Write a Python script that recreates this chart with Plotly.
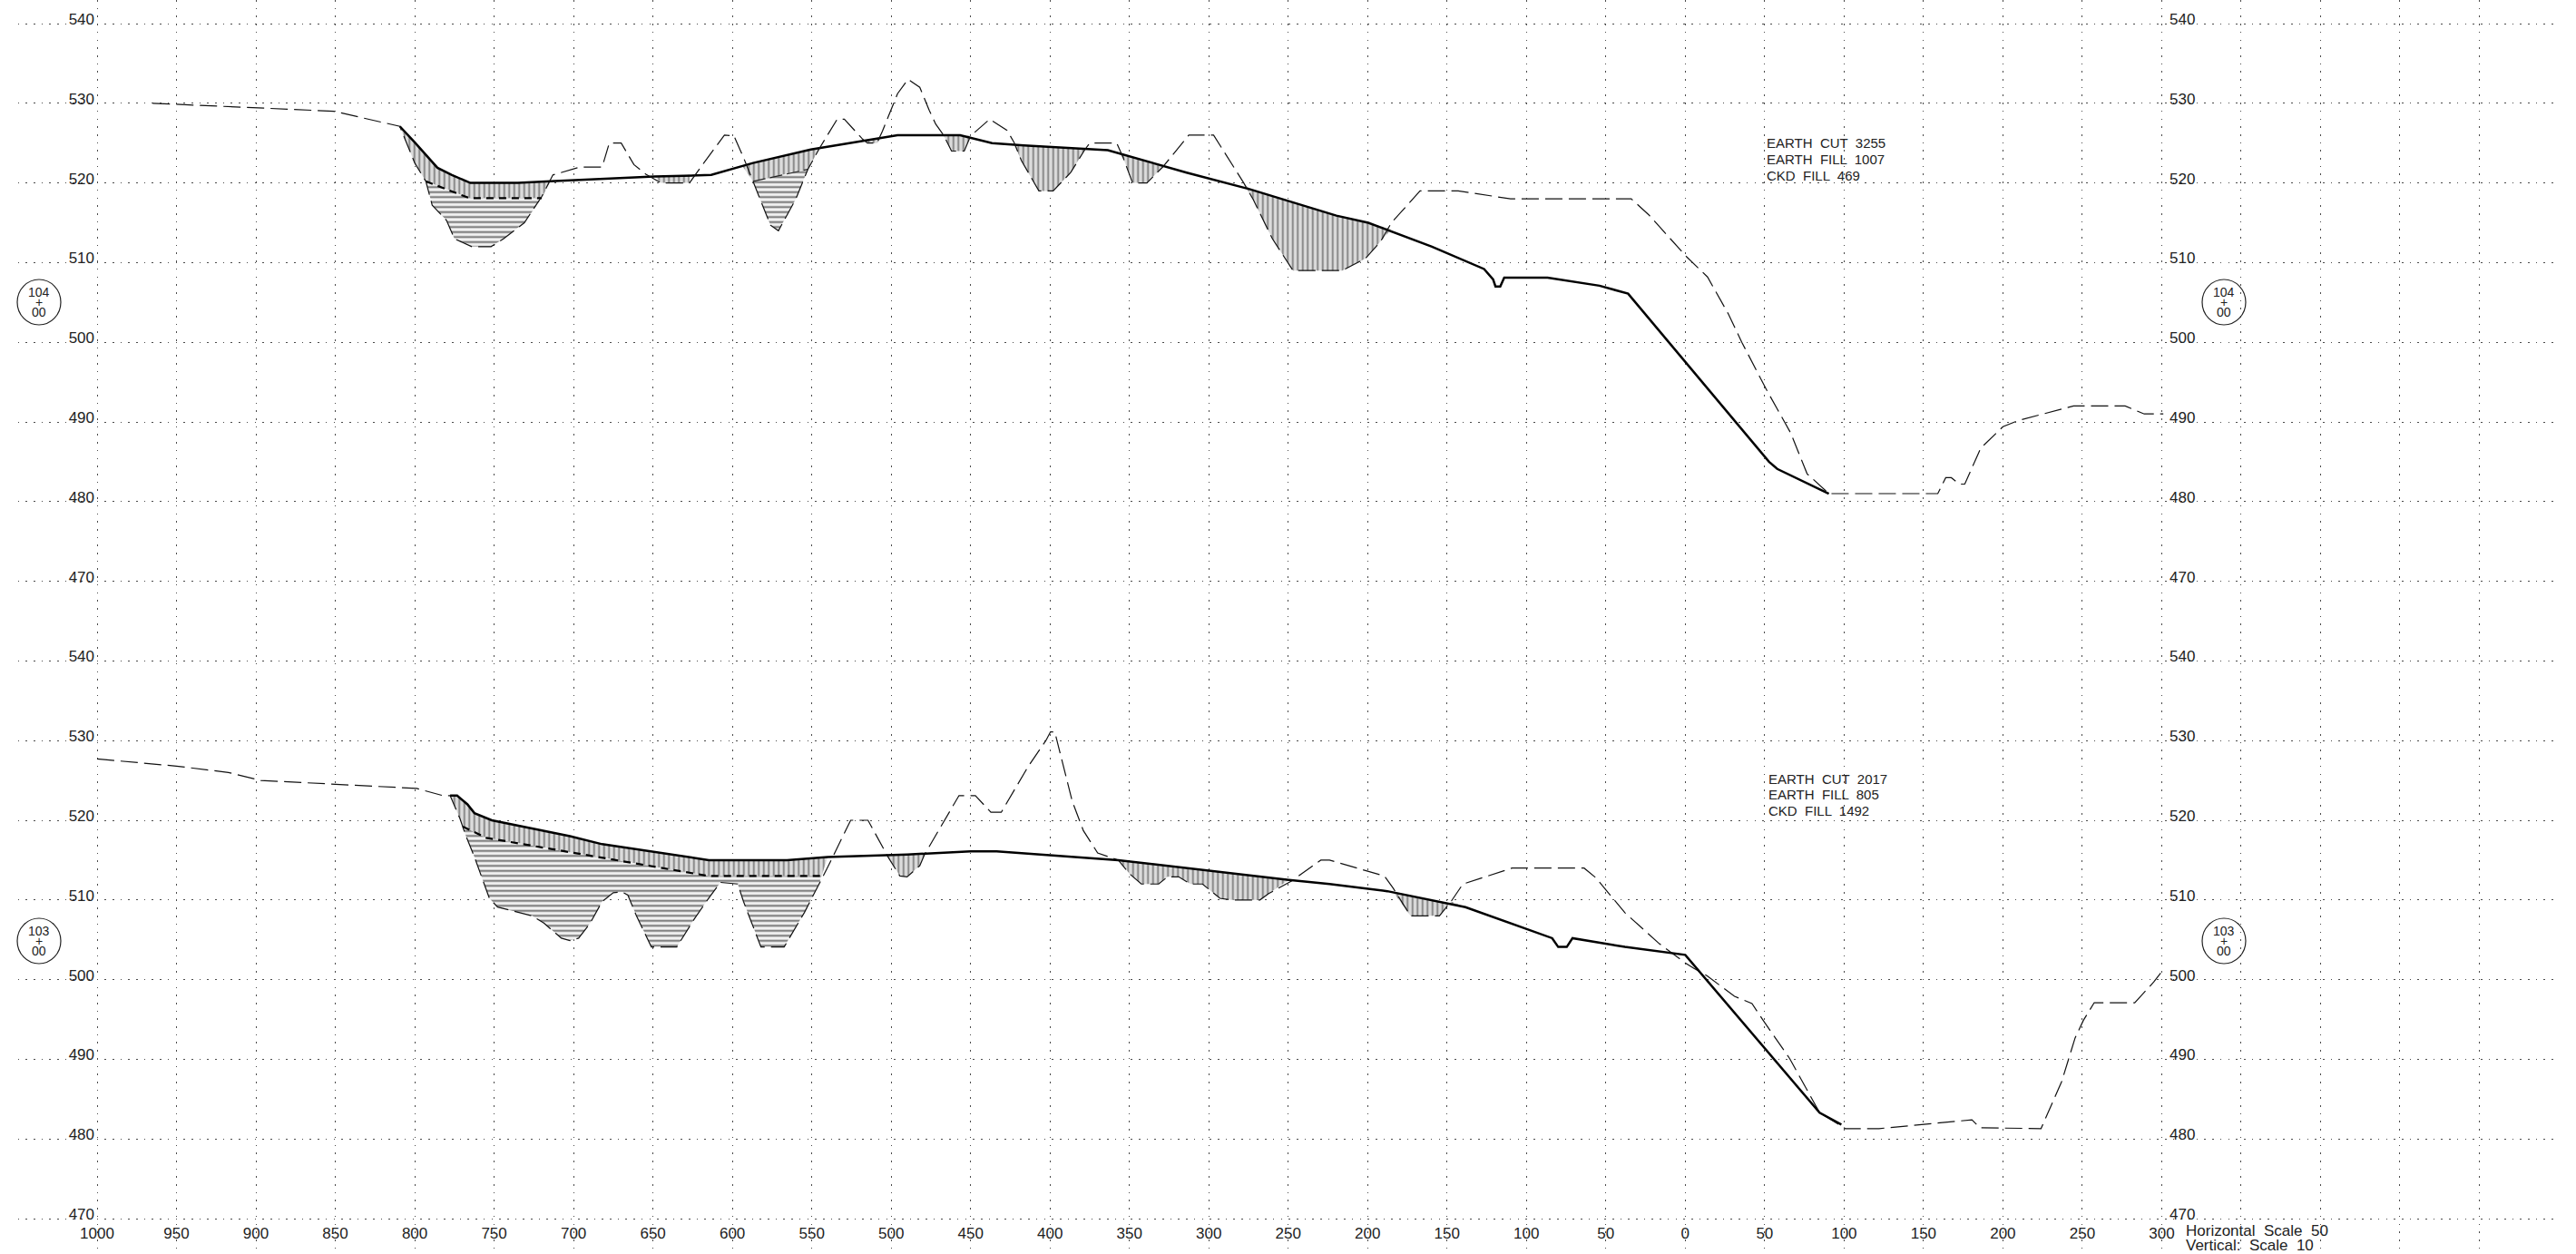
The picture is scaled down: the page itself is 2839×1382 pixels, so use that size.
import plotly.graph_objects as go

W, H = 2839, 1382

# Horizontal stations: negative = left of the 0 mark (the drawing labels both sides unsigned)
x_grid = list(range(-1050, 551, 50))
x_labelled = list(range(-1000, 301, 50))
y_labels = [540, 530, 520, 510, 500, 490, 480, 470]

# Upper section (104+00)
top_ground_x = [-965, -900, -851, -809.4, -800, -793, -789, -780, -775, -764, -752, -744, -731, -720, -713, -696, -682, -677.5, -670, -662, -654.5, -645, -627, -618, -605, -599, -593, -587, -576, -571, -560, -552.5, -545, -534, -529.5, -518, -515, -509, -505.5, -496, -489.4, -482, -476, -472, -467, -462, -454, -450, -444, -438, -427, -422.7, -418, -407, -398, -387, -378, -375, -358, -354, -348, -339, -329, -312.6, -297, -287, -278, -272, -260, -247, -216, -201.5, -192, -185, -167, -143, -110, -34, -23, 1, 14, 27, 35.6, 51, 66.4, 76.7, 90.4, 159, 164, 167.5, 172.6, 176, 186, 200, 210, 244.5, 277, 289, 301]
top_ground_y = [530, 529.4, 529, 527.1, 522.5, 520.2, 517.2, 515.3, 513, 512, 512, 513, 515, 518.3, 521, 522, 522, 525, 525, 522.3, 521.1, 520, 520, 522.5, 526, 525.9, 523.2, 520.2, 514.7, 514, 518, 521.7, 524.4, 528, 528, 525.5, 525, 525, 526.5, 531.2, 533, 532, 529.1, 527.4, 526, 524, 524, 525.9, 527, 528, 526.6, 525.1, 522.8, 519, 519, 521.3, 524.2, 525, 525, 523.2, 520, 520, 522, 526, 526, 522.8, 520, 517.9, 513, 509, 509, 510.5, 512.6, 515, 519, 519, 518, 518, 516, 510.7, 508.2, 503.6, 500, 494.1, 488.6, 483.5, 481, 481, 483, 483, 482.2, 482.2, 486.7, 489.4, 490.2, 492, 492, 491, 491]
top_grade_x = [-809.4, -800, -785.7, -776.6, -765, -735, -714.6, -649, -613.3, -587, -550.6, -514, -496, -456.6, -436.5, -416.5, -363.6, -314, -274, -219.7, -199.6, -159.5, -126.7, -121, -119.5, -116.5, -114, -86.7, -54, -36, 52.7, 57.9, 90.4]
top_grade_y = [527.1, 525.1, 521.9, 521, 520, 520, 520.2, 520.8, 521, 522.5, 524.2, 525.4, 526, 526, 525, 524.7, 524.1, 521.3, 519.2, 515.9, 515, 512, 509.2, 507.9, 507, 507, 508.1, 508.1, 507.1, 506.1, 485, 484.1, 481]
top_bound_a_x = [-793, -765.7, -720]
top_bound_a_y = [520.2, 518.1, 518.1]
top_bound_b_x = [-587, -552.5]
top_bound_b_y = [520.2, 521.7]

# Upper section hatched areas
top_cut_a_x = [-809.4, -800, -785.7, -776.6, -765, -735, -714.6, -720, -765.7, -793, -800]
top_cut_a_y = [527.1, 525.1, 521.9, 521, 520, 520, 520.2, 518.1, 518.1, 520.2, 522.5]
top_ckd_a_x = [-793, -765.7, -720, -731, -744, -752, -764, -775, -780, -789]
top_ckd_a_y = [520.2, 518.1, 518.1, 515, 513, 512, 512, 513, 515.3, 517.2]
top_cut_b_x = [-649, -627, -627, -645]
top_cut_b_y = [520.8, 521, 520, 520]
top_cut_c_x = [-594, -587, -550.6, -545, -552.5, -587]
top_cut_c_y = [522.2, 522.5, 524.2, 524.4, 521.7, 520.2]
top_ckd_c_x = [-587, -552.5, -560, -571, -576]
top_ckd_c_y = [520.2, 521.7, 518, 514, 514.7]
top_cut_d_x = [-516, -506, -509, -515]
top_cut_d_y = [525.3, 525.7, 525, 525]
top_cut_e_x = [-467, -456.6, -450, -454, -462]
top_cut_e_y = [526, 526, 525.9, 524, 524]
top_cut_f_x = [-422.7, -416.5, -378, -387, -398, -407, -418]
top_cut_f_y = [524.9, 524.7, 524.2, 521.3, 519, 519, 522.8]
top_cut_g_x = [-358, -329, -339, -348, -354]
top_cut_g_y = [523.9, 522, 520, 520, 523.2]
top_cut_h_x = [-278, -274, -219.7, -199.6, -185, -192, -201.5, -216, -247, -260, -272]
top_cut_h_y = [519.9, 519.2, 515.9, 515, 514.2, 512.6, 510.5, 509, 509, 513, 517.9]

# Lower section (103+00)
low_ground_x = [-1000, -950, -917.3, -897, -798.8, -782.4, -777.7, -771.5, -767.9, -762.4, -753, -747.8, -726, -718.7, -707.7, -702.3, -696.8, -689.5, -682, -675, -669.5, -665.8, -660.4, -651, -635, -624, -615, -607.5, -596.6, -593, -582, -567.4, -554.7, -545.5, -540, -525.5, -514.6, -502, -494.5, -490, -482, -479, -457.3, -447, -437.2, -430.7, -413.6, -402.6, -399.7, -397, -386, -379, -370, -357, -350, -342.5, -331.6, -326, -319, -311.5, -304, -293, -286, -267.8, -262.3, -247.7, -229.5, -224, -189.4, -184, -173, -154.8, -147.5, -140, -109, -63.7, -56.4, -38, -16.3, 0, 5.5, 13.6, 31, 42, 49, 65.7, 84.6, 100.7, 122, 180.5, 185.6, 224, 237, 245.5, 250.7, 257.5, 283, 295, 300]
low_ground_y = [527.7, 526.8, 526, 525, 524, 523.1, 523.1, 520.2, 518.1, 515.4, 510.2, 509.1, 508, 507.1, 505.2, 504.9, 505.2, 507.1, 509.8, 510.9, 511, 510.6, 508, 504.1, 504.1, 507.6, 510.2, 512.2, 512, 509.8, 504.1, 504.1, 508.4, 512, 514.1, 520, 520, 515.4, 513, 512.9, 514.3, 515.7, 523.1, 523.1, 521, 521, 526.8, 530, 531.1, 531.1, 522.4, 518.7, 515.9, 515, 513.3, 512, 512, 512.9, 512.9, 512, 512, 510.2, 510, 510, 510.8, 512.4, 515, 515, 513, 511.5, 508, 508, 509.8, 512, 514, 514, 512.8, 508.4, 504.5, 502.1, 501.4, 500.5, 497.9, 497, 494.9, 490.1, 483.3, 481.3, 481.3, 482.4, 481.4, 481.3, 487.2, 492.7, 494.9, 497.1, 497.1, 499.7, 501]
low_grade_x = [-777.7, -773.3, -766.8, -762.4, -751.5, -702.3, -682, -653, -614.8, -565.6, -540, -489.8, -450, -433.6, -357, -249.6, -224, -187.6, -138.4, -83.8, -80, -74.6, -71, -38, 0, 84.6, 98.3]
low_grade_y = [523.1, 523.1, 522, 520.9, 520, 518, 517, 516.1, 515, 515, 515.4, 515.7, 516.1, 516.1, 515, 512.5, 512, 511.1, 509.1, 505.2, 504.1, 504.1, 505.2, 504.1, 503.1, 483.3, 481.8]
low_bound_x = [-769.7, -755, -614.8, -543.8]
low_bound_y = [519.2, 517.8, 513, 513]

# Lower section hatched areas
low_cut_a_x = [-777.7, -773.3, -766.8, -762.4, -751.5, -702.3, -682, -653, -614.8, -565.6, -540, -543.8, -614.8, -755, -769.7, -771.5]
low_cut_a_y = [523.1, 523.1, 522, 520.9, 520, 518, 517, 516.1, 515, 515, 515.4, 513, 513, 517.8, 519.2, 520.2]
low_ckd_a_x = [-769.7, -755, -614.8, -543.8, -545.5, -554.7, -567.4, -582, -593, -596.6, -607.5, -615, -624, -635, -651, -660.4, -665.8, -669.5, -675, -682, -689.5, -696.8, -702.3, -707.7, -718.7, -726, -747.8, -753, -762.4, -767.9]
low_ckd_a_y = [519.2, 517.8, 513, 513, 512, 508.4, 504.1, 504.1, 509.8, 512, 512.2, 510.2, 507.6, 504.1, 504.1, 508, 510.6, 511, 510.9, 509.8, 507.1, 505.2, 504.9, 505.2, 507.1, 508, 509.1, 510.2, 515.4, 518.1]
low_cut_b_x = [-502, -489.8, -479, -482, -490, -494.5]
low_cut_b_y = [515.5, 515.7, 515.8, 514.3, 512.9, 513]
low_cut_c_x = [-357, -249.6, -262.3, -267.8, -286, -293, -304, -311.5, -319, -326, -331.6, -342.5, -350]
low_cut_c_y = [515, 512.5, 510.8, 510, 510, 510.2, 512, 512, 512.9, 512.9, 512, 512, 513.3]
low_cut_d_x = [-184, -138.4, -147.5, -154.8, -173]
low_cut_d_y = [511, 509.1, 509.8, 508, 508]
low_cut_e_x = [0, 7.3, 5.5]
low_cut_e_y = [503.1, 500.8, 501.4]

top_notes = ["EARTH  CUT  3255", "EARTH  FILL  1007", "CKD  FILL  469"]
low_notes = ["EARTH  CUT  2017", "EARTH  FILL  805", "CKD  FILL  1492"]
scale_notes = ["Horizontal  Scale  50", "Vertical:  Scale  10"]
FONT = "Liberation Sans"
INK = "#222222"
SHIFT = 80  # the lower section sits 80 axis units below the upper one on the shared y axis


def low(values):
    return [v - SHIFT for v in values]


fig = go.Figure()


def hatch(xs, ys, kind):
    pattern = (dict(shape="|", size=5.5, solidity=0.4, fgcolor="#3c3c3c", bgcolor="#dddddd")
               if kind == "cut" else
               dict(shape="-", size=5.5, solidity=0.42, fgcolor="#111111", bgcolor="#f2f2f2"))
    fig.add_trace(go.Scatter(x=xs, y=ys, mode="lines", fill="toself", fillpattern=pattern,
                             line=dict(width=0), hoverinfo="skip", showlegend=False))


for xs, ys in [(top_cut_a_x, top_cut_a_y), (top_cut_b_x, top_cut_b_y), (top_cut_c_x, top_cut_c_y),
               (top_cut_d_x, top_cut_d_y), (top_cut_e_x, top_cut_e_y), (top_cut_f_x, top_cut_f_y),
               (top_cut_g_x, top_cut_g_y), (top_cut_h_x, top_cut_h_y)]:
    hatch(xs, ys, "cut")
for xs, ys in [(top_ckd_a_x, top_ckd_a_y), (top_ckd_c_x, top_ckd_c_y)]:
    hatch(xs, ys, "ckd")
for xs, ys in [(low_cut_a_x, low_cut_a_y), (low_cut_b_x, low_cut_b_y), (low_cut_c_x, low_cut_c_y),
               (low_cut_d_x, low_cut_d_y), (low_cut_e_x, low_cut_e_y)]:
    hatch(xs, low(ys), "cut")
hatch(low_ckd_a_x, low(low_ckd_a_y), "ckd")

dash_thin = dict(color="#111111", width=1.2, dash="19px,7px")
dash_thick = dict(color="#000000", width=2.2, dash="8px,6px")
solid = dict(color="#000000", width=2.5)

fig.add_trace(go.Scatter(x=top_ground_x, y=top_ground_y, mode="lines", line=dash_thin, yaxis="y2", name="Existing ground 104+00", showlegend=False))
fig.add_trace(go.Scatter(x=low_ground_x, y=low(low_ground_y), mode="lines", line=dash_thin, name="Existing ground 103+00", showlegend=False))
fig.add_trace(go.Scatter(x=top_bound_a_x, y=top_bound_a_y, mode="lines", line=dash_thick, showlegend=False))
fig.add_trace(go.Scatter(x=top_bound_b_x, y=top_bound_b_y, mode="lines", line=dict(color=INK, width=1.2, dash="14px,5px"), showlegend=False))
fig.add_trace(go.Scatter(x=low_bound_x, y=low(low_bound_y), mode="lines", line=dash_thick, showlegend=False))
fig.add_trace(go.Scatter(x=top_grade_x, y=top_grade_y, mode="lines", line=solid, name="Grade 104+00", showlegend=False))
fig.add_trace(go.Scatter(x=low_grade_x, y=low(low_grade_y), mode="lines", line=solid, name="Grade 103+00", showlegend=False))

y_vals = y_labels + low(y_labels)
y_text = [str(v) for v in y_labels] * 2
y_range = [540 - (H - 26) / 8.78, 540 + 26 / 8.78]
tick_font = dict(family=FONT, size=17, color=INK)
grid = dict(griddash="1.6px,7.1px", gridcolor="#4a4a4a", gridwidth=1.3)

fig.update_layout(
    width=W, height=H, autosize=False, showlegend=False,
    margin=dict(l=0, r=0, t=0, b=0, pad=0),
    paper_bgcolor="white", plot_bgcolor="white",
    font=dict(family=FONT, color=INK),
    xaxis=dict(domain=[19.5 / W, 2820 / W], range=[-1050, 550], anchor="free", position=(H - 1347) / H,
               tickmode="array", tickvals=x_grid,
               ticktext=[str(abs(v)) if v in x_labelled else "" for v in x_grid],
               showgrid=True, zeroline=False, showline=False, ticks="", tickfont=tick_font, tickangle=0, **grid),
    yaxis=dict(domain=[0, 1], range=y_range, anchor="free", position=104 / W, side="left",
               tickmode="array", tickvals=y_vals, ticktext=y_text, ticklabelshift=-5,
               showgrid=True, zeroline=False, showline=False, ticks="", tickfont=tick_font, **grid),
    yaxis2=dict(domain=[0, 1], range=y_range, anchor="free", position=2390 / W, side="right", overlaying="y",
                tickmode="array", tickvals=y_vals, ticktext=y_text, ticklabelshift=-5,
                showgrid=False, zeroline=False, showline=False, ticks="", tickfont=tick_font),
)


def note(text, px, py, size=14, anchor="left"):
    fig.add_annotation(xref="paper", yref="paper", x=px / W, y=1 - py / H, text=text, showarrow=False,
                       xanchor=anchor, yanchor="middle", align=anchor, borderpad=0,
                       font=dict(family=FONT, size=size, color=INK))


for text, py in zip(top_notes, [158, 175.7, 193]):
    note(text, 1946, py, 15)
for text, py in zip(low_notes, [858, 875, 893]):
    note(text, 1948, py, 15)
for text, py in zip(scale_notes, [1356, 1372]):
    note(text, 2408, py, 17)

for cx, cy, num in [(43, 333, "104"), (2451, 333, "104"), (43, 1037, "103"), (2451, 1037, "103")]:
    fig.add_shape(type="circle", xref="paper", yref="paper",
                  x0=(cx - 24) / W, x1=(cx + 24) / W, y0=1 - (cy + 25) / H, y1=1 - (cy - 25) / H,
                  line=dict(color=INK, width=1.2), fillcolor="rgba(0,0,0,0)")
    note(num, cx, cy - 11, 14, "center")
    note("+", cx, cy, 14, "center")
    note("00", cx, cy + 11, 14, "center")

fig.write_html("out.html", config={"displayModeBar": False},
               post_script="document.body.style.margin='0';document.body.style.overflow='hidden';")
